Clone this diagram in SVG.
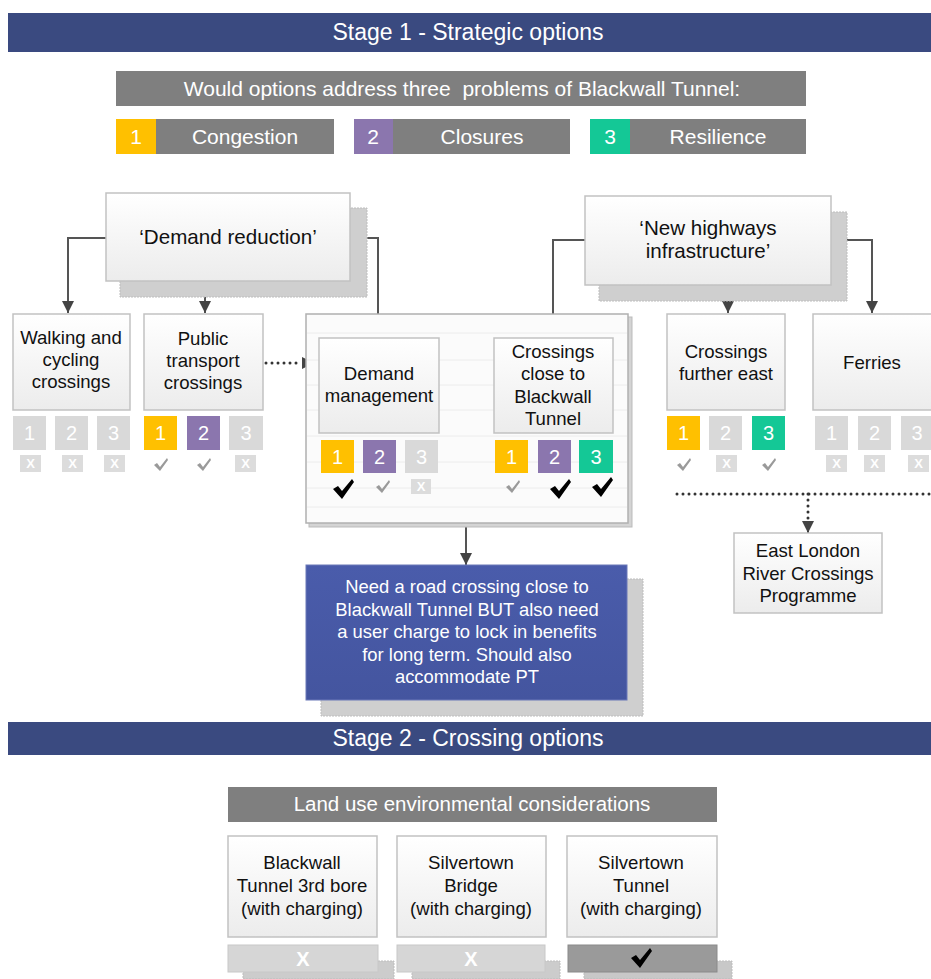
<svg xmlns="http://www.w3.org/2000/svg" width="931" height="979" viewBox="0 0 931 979">
<style>
text{font-family:"Liberation Sans",Arial,Helvetica,sans-serif}
.hdr{fill:#3a4a80}
.hdrt{fill:#fff;font-size:23px;text-anchor:middle}
.gbar{fill:#7f7f7f}
.gbart{fill:#fff;font-size:21px;text-anchor:middle}
.node{fill:url(#ng);stroke:#c2c2c2;stroke-width:1.5}
.shadow{fill:#cfcfcf;stroke:#bdbdbd;stroke-width:1;stroke-dasharray:2 1}
.nt{fill:#111;font-size:18.6px;text-anchor:middle}
.sq{stroke:none}
.y{fill:#ffc000}.p{fill:#8b76ae}.g{fill:#14c896}.n{fill:#d9d9d9}
.dig{fill:#fff;font-size:20px;text-anchor:middle}
.xb{fill:#dcdcdc}
.xt{fill:#fff;font-size:13px;font-weight:bold;text-anchor:middle}
.conn{fill:none;stroke:#555;stroke-width:2}
.dot{fill:none;stroke:#333;stroke-width:3;stroke-linecap:round;stroke-dasharray:0 6}
.ck{fill:#9a9a9a}
.ckb{fill:#000}
.wt{fill:#fff;font-size:18.4px;text-anchor:middle}
</style>
<defs>
<linearGradient id="ng" x1="0" y1="0" x2="0" y2="1">
<stop offset="0" stop-color="#ffffff"/>
<stop offset="1" stop-color="#ececec"/>
</linearGradient>
<linearGradient id="bg" x1="0" y1="0" x2="0" y2="1">
<stop offset="0" stop-color="#4a5cab"/>
<stop offset="1" stop-color="#44559f"/>
</linearGradient>
<marker id="ah" markerUnits="userSpaceOnUse" markerWidth="12" markerHeight="12" viewBox="0 0 10 10" refX="10" refY="5" orient="auto">
<path d="M0,0 L10,5 L0,10 Z" fill="#444"/>
</marker>
<path id="chk" d="M0,7 L3,5 L6,9 L13,0 L14,2 L6,13 Z"/>
<path id="chkb" d="M0,10 L5,7 L9,12 L19,0 L21,3 L9,20 Z"/>
</defs>

<!-- Stage 1 header -->
<g id="stage1">
<rect class="hdr" x="8" y="13" width="923" height="39"/>
<text class="hdrt" x="468" y="40">Stage 1 - Strategic options</text>
</g>

<g id="question">
<rect class="gbar" x="116" y="71" width="690" height="35"/>
<text class="gbart" x="462" y="96" xml:space="preserve" style="white-space:pre">Would options address three  problems of Blackwall Tunnel:</text>
</g>

<g id="legend1">
<rect class="y" x="116" y="119" width="40" height="35"/>
<rect class="gbar" x="156" y="119" width="178" height="35"/>
<text class="gbart" x="136" y="144">1</text>
<text class="gbart" x="245" y="144">Congestion</text>
</g>
<g id="legend2">
<rect class="p" x="354" y="119" width="39" height="35"/>
<rect class="gbar" x="393" y="119" width="177" height="35"/>
<text class="gbart" x="373" y="144">2</text>
<text class="gbart" x="482" y="144">Closures</text>
</g>
<g id="legend3">
<rect class="g" x="590" y="119" width="40" height="35"/>
<rect class="gbar" x="630" y="119" width="176" height="35"/>
<text class="gbart" x="610" y="144">3</text>
<text class="gbart" x="718" y="144">Resilience</text>
</g>

<!-- connectors -->
<g id="connectors">
<path class="conn" d="M106,238 H68 V313" marker-end="url(#ah)"/>
<path class="conn" d="M205,281 V313" marker-end="url(#ah)"/>
<path class="conn" d="M350,238 H378 V338" marker-end="url(#ah)"/>
<path class="conn" d="M585,240 H553 V338" marker-end="url(#ah)"/>
<path class="conn" d="M728,285 V313" marker-end="url(#ah)"/>
<path class="conn" d="M831,240 H872 V313" marker-end="url(#ah)"/>
<path class="conn" d="M466,523 V565" marker-end="url(#ah)"/>
<path class="dot" d="M266,363 H302"/>
<path d="M302,363 H314" stroke="#333" stroke-width="2" marker-end="url(#ah)"/>
<path class="dot" d="M677,494 H931"/>
<path class="dot" d="M808,494 V522"/>
<path d="M808,522 V533" stroke="#333" stroke-width="2" marker-end="url(#ah)"/>
</g>

<!-- Demand reduction -->
<g id="demand-reduction">
<rect class="shadow" x="120" y="208" width="247" height="89"/>
<rect class="node" x="106" y="193" width="244" height="88"/>
<text class="nt" x="228" y="244" style="font-size:20.6px">‘Demand reduction’</text>
</g>

<!-- New highways -->
<g id="new-highways">
<rect class="shadow" x="599" y="212" width="248" height="89"/>
<rect class="node" x="585" y="196" width="246" height="89"/>
<text class="nt" x="708" y="235" style="font-size:20.6px">‘New highways</text>
<text class="nt" x="708" y="258" style="font-size:20.6px">infrastructure’</text>
</g>

<!-- Walking -->
<g id="walking">
<rect class="node" x="13" y="314" width="117" height="96"/>
<text class="nt" x="71" y="344">Walking and</text>
<text class="nt" x="71" y="366">cycling</text>
<text class="nt" x="71" y="388">crossings</text>
<rect class="sq n" x="13" y="416" width="33" height="34"/><text class="dig" x="29.5" y="440">1</text>
<rect class="sq n" x="55" y="416" width="33" height="34"/><text class="dig" x="71.5" y="440">2</text>
<rect class="sq n" x="97" y="416" width="33" height="34"/><text class="dig" x="113.5" y="440">3</text>
<rect class="xb" x="20" y="455" width="21" height="17"/><text class="xt" x="30.5" y="468">X</text>
<rect class="xb" x="62" y="455" width="21" height="17"/><text class="xt" x="72.5" y="468">X</text>
<rect class="xb" x="104" y="455" width="21" height="17"/><text class="xt" x="114.5" y="468">X</text>
</g>

<!-- Public transport -->
<g id="public-transport">
<rect class="node" x="144" y="314" width="119" height="96"/>
<text class="nt" x="203" y="345">Public</text>
<text class="nt" x="203" y="367">transport</text>
<text class="nt" x="203" y="389">crossings</text>
<rect class="sq y" x="144" y="416" width="33" height="34"/><text class="dig" x="160.5" y="440">1</text>
<rect class="sq p" x="187" y="416" width="33" height="34"/><text class="dig" x="203.5" y="440">2</text>
<rect class="sq n" x="229" y="416" width="34" height="34"/><text class="dig" x="246" y="440">3</text>
<use href="#chk" class="ck" x="154" y="458"/>
<use href="#chk" class="ck" x="197" y="458"/>
<rect class="xb" x="235" y="455" width="21" height="17"/><text class="xt" x="245.5" y="468">X</text>
</g>

<!-- Container -->
<g id="container">
<rect x="309" y="317" width="323" height="210" fill="#d4d4d4" stroke="#bbb"/>
<rect x="306" y="314" width="322" height="209" fill="#fbfbfb" stroke="#b0b0b0" stroke-width="1.5"/>
<path d="M307,333 H627 M307,360 H627 M307,385 H627 M307,410 H627 M307,436 H627 M307,462 H627 M307,488 H627 M307,507 H627" stroke="#ececec" stroke-width="1"/>
</g>

<!-- Demand management -->
<g id="demand-management">
<rect class="node" x="319" y="338" width="120" height="95"/>
<text class="nt" x="379" y="380">Demand</text>
<text class="nt" x="379" y="402">management</text>
<rect class="sq y" x="321" y="440" width="33" height="33"/><text class="dig" x="337.5" y="464">1</text>
<rect class="sq p" x="363" y="440" width="33" height="33"/><text class="dig" x="379.5" y="464">2</text>
<rect class="sq n" x="405" y="440" width="33" height="33"/><text class="dig" x="421.5" y="464">3</text>
<use href="#chkb" class="ckb" x="333" y="479"/>
<use href="#chk" class="ck" x="376" y="480"/>
<rect class="xb" x="411" y="479" width="20" height="15"/><text class="xt" x="421" y="491">X</text>
</g>

<!-- Crossings close to Blackwall -->
<g id="crossings-close">
<rect class="node" x="494" y="338" width="119" height="95"/>
<text class="nt" x="553" y="358">Crossings</text>
<text class="nt" x="553" y="380">close to</text>
<text class="nt" x="553" y="403">Blackwall</text>
<text class="nt" x="553" y="425">Tunnel</text>
<rect class="sq y" x="495" y="440" width="33" height="33"/><text class="dig" x="511.5" y="464">1</text>
<rect class="sq p" x="538" y="440" width="33" height="33"/><text class="dig" x="554.5" y="464">2</text>
<rect class="sq g" x="579" y="440" width="34" height="33"/><text class="dig" x="596" y="464">3</text>
<use href="#chk" class="ck" x="506" y="480"/>
<use href="#chkb" class="ckb" x="550" y="479"/>
<use href="#chkb" class="ckb" x="592" y="477"/>
</g>

<!-- Crossings further east -->
<g id="crossings-east">
<rect class="node" x="667" y="314" width="118" height="96"/>
<text class="nt" x="726" y="358">Crossings</text>
<text class="nt" x="726" y="380">further east</text>
<rect class="sq y" x="667" y="416" width="33" height="34"/><text class="dig" x="683.5" y="440">1</text>
<rect class="sq n" x="709" y="416" width="33" height="34"/><text class="dig" x="725.5" y="440">2</text>
<rect class="sq g" x="752" y="416" width="33" height="34"/><text class="dig" x="768.5" y="440">3</text>
<use href="#chk" class="ck" x="677" y="458"/>
<rect class="xb" x="716" y="455" width="21" height="17"/><text class="xt" x="726.5" y="468">X</text>
<use href="#chk" class="ck" x="762" y="458"/>
</g>

<!-- Ferries -->
<g id="ferries">
<rect class="node" x="813" y="314" width="120" height="96"/>
<text class="nt" x="872" y="369">Ferries</text>
<rect class="sq n" x="815" y="416" width="33" height="34"/><text class="dig" x="831.5" y="440">1</text>
<rect class="sq n" x="858" y="416" width="33" height="34"/><text class="dig" x="874.5" y="440">2</text>
<rect class="sq n" x="901" y="416" width="30" height="34"/><text class="dig" x="917" y="440">3</text>
<rect class="xb" x="826" y="455" width="21" height="17"/><text class="xt" x="836.5" y="468">X</text>
<rect class="xb" x="864" y="455" width="21" height="17"/><text class="xt" x="874.5" y="468">X</text>
<rect class="xb" x="908" y="455" width="21" height="17"/><text class="xt" x="918.5" y="468">X</text>
</g>

<!-- East London River Crossings -->
<g id="elrc">
<rect class="node" x="734" y="533" width="148" height="80"/>
<text class="nt" x="808" y="557">East London</text>
<text class="nt" x="808" y="580">River Crossings</text>
<text class="nt" x="808" y="602">Programme</text>
</g>

<!-- Conclusion -->
<g id="conclusion">
<rect class="shadow" x="321" y="579" width="322" height="137"/>
<rect x="306" y="565" width="321" height="135" fill="url(#bg)" stroke="#6a78b8" stroke-width="1"/>
<text class="wt" x="467" y="593">Need a road crossing close to</text>
<text class="wt" x="467" y="616">Blackwall Tunnel BUT also need</text>
<text class="wt" x="467" y="638">a user charge to lock in benefits</text>
<text class="wt" x="467" y="661">for long term. Should also</text>
<text class="wt" x="467" y="683">accommodate PT</text>
</g>

<!-- Stage 2 header -->
<g id="stage2">
<rect class="hdr" x="8" y="722" width="923" height="33"/>
<text class="hdrt" x="468" y="746">Stage 2 - Crossing options</text>
</g>

<g id="landuse">
<rect class="gbar" x="228" y="787" width="489" height="35"/>
<text class="gbart" x="472" y="811" style="font-size:20.5px">Land use environmental considerations</text>
</g>

<g id="opt1">
<rect class="node" x="228" y="836" width="149" height="101"/>
<text class="nt" x="302" y="869">Blackwall</text>
<text class="nt" x="302" y="892">Tunnel 3rd bore</text>
<text class="nt" x="302" y="915">(with charging)</text>
<rect x="243" y="961" width="151" height="18" fill="#cccccc" stroke="#bdbdbd" stroke-dasharray="2 1"/>
<rect x="228" y="945" width="150" height="27" fill="#d6d6d6" stroke="#c8c8c8"/>
<text x="303" y="966" style="fill:#fff;font-size:20px;font-weight:bold;text-anchor:middle">X</text>
</g>

<g id="opt2">
<rect class="node" x="397" y="836" width="149" height="101"/>
<text class="nt" x="471" y="869">Silvertown</text>
<text class="nt" x="471" y="892">Bridge</text>
<text class="nt" x="471" y="915">(with charging)</text>
<rect x="412" y="961" width="148" height="18" fill="#cccccc" stroke="#bdbdbd" stroke-dasharray="2 1"/>
<rect x="397" y="945" width="148" height="27" fill="#d6d6d6" stroke="#c8c8c8"/>
<text x="471" y="966" style="fill:#fff;font-size:20px;font-weight:bold;text-anchor:middle">X</text>
</g>

<g id="opt3">
<rect class="node" x="567" y="836" width="150" height="101"/>
<text class="nt" x="641" y="869">Silvertown</text>
<text class="nt" x="641" y="892">Tunnel</text>
<text class="nt" x="641" y="915">(with charging)</text>
<rect x="584" y="961" width="148" height="18" fill="#c8c8c8" stroke="#bdbdbd" stroke-dasharray="2 1"/>
<rect x="568" y="945" width="149" height="27" fill="#9a9a9a" stroke="#8a8a8a"/>
<use href="#chkb" class="ckb" x="631" y="948"/>
</g>
</svg>
